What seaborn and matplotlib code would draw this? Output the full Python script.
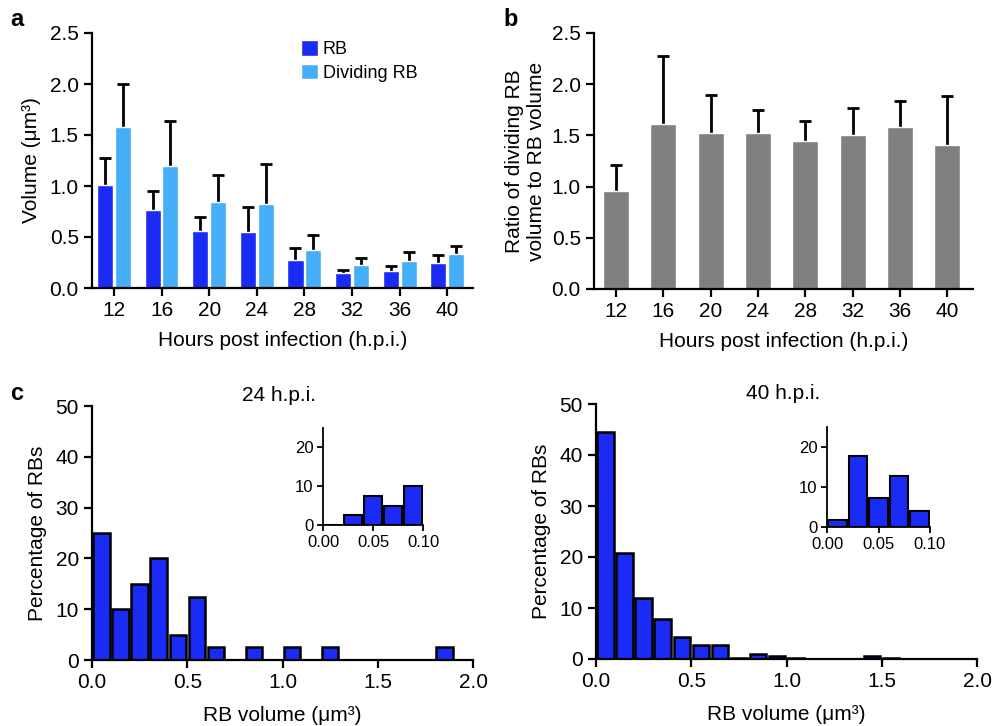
import numpy as np
import pandas as pd
import seaborn as sns
import matplotlib.pyplot as plt

# ----------------------------
# Data
# ----------------------------
hpi = ["12", "16", "20", "24", "28", "32", "36", "40"]

rb_mean = [1.01, 0.76, 0.56, 0.55, 0.27, 0.15, 0.17, 0.25]
rb_upper = [1.27, 0.95, 0.70, 0.79, 0.39, 0.18, 0.22, 0.32]
div_mean = [1.58, 1.20, 0.84, 0.82, 0.37, 0.23, 0.26, 0.33]
div_upper = [2.00, 1.64, 1.11, 1.22, 0.52, 0.29, 0.35, 0.41]

ratio_mean = [0.96, 1.61, 1.52, 1.52, 1.45, 1.50, 1.58, 1.41]
ratio_upper = [1.21, 2.28, 1.89, 1.75, 1.64, 1.77, 1.84, 1.88]

# histogram of RB volume, bins of 0.1 um3 from 0 to 2.0 (percent)
vol_bins = [0.0, 0.1, 0.2, 0.3, 0.4, 0.5, 0.6, 0.7, 0.8, 0.9, 1.0,
            1.1, 1.2, 1.3, 1.4, 1.5, 1.6, 1.7, 1.8, 1.9, 2.0]
pct_24 = [25, 10, 15, 20, 5, 12.5, 2.5, 0, 2.5, 0,
          2.5, 0, 2.5, 0, 0, 0, 0, 0, 2.5, 0]
pct_40 = [44.5, 20.7, 12.0, 7.8, 4.4, 2.8, 2.8, 0.15, 1.0, 0.6,
          0.15, 0, 0, 0, 0.6, 0.15, 0, 0, 0, 0]

# inset histograms, bins of 0.02 from 0 to 0.10
small_bins = [0.0, 0.02, 0.04, 0.06, 0.08, 0.10]
small_24 = [0, 2.5, 7.5, 5, 10]
small_40 = [1.7, 17.8, 7.3, 12.8, 4.0]

RB_BLUE = "#1b2bf6"
DIV_BLUE = "#44aef8"
GREY = "#808080"

# ----------------------------
# Style
# ----------------------------
sns.set_style("ticks")
plt.rcParams['font.family'] = ['Liberation Sans', 'DejaVu Sans']
plt.rcParams['axes.linewidth'] = 1.6
plt.rcParams['xtick.major.width'] = 1.6
plt.rcParams['ytick.major.width'] = 1.6
plt.rcParams['xtick.major.size'] = 6
plt.rcParams['ytick.major.size'] = 6
plt.rcParams['xtick.labelsize'] = 15
plt.rcParams['ytick.labelsize'] = 15
plt.rcParams['axes.labelsize'] = 15
plt.rcParams['axes.edgecolor'] = 'black'
plt.rcParams['axes.labelcolor'] = 'black'
plt.rcParams['xtick.color'] = 'black'
plt.rcParams['ytick.color'] = 'black'
plt.rcParams['text.color'] = 'black'

W, H = 992, 726
fig = plt.figure(figsize=(W / 100, H / 100), dpi=100)


def px_axes(left, top, right, bottom):
    return fig.add_axes([left / W, 1 - bottom / H, (right - left) / W, (bottom - top) / H])


def upper_errors(ax, container, upper):
    # one-sided (upper) error bars on top of the drawn bars
    xs = [p.get_x() + p.get_width() / 2 for p in container]
    hs = [p.get_height() for p in container]
    err = np.array(upper) - np.array(hs)
    _, caps, _ = ax.errorbar(xs, hs, yerr=[np.zeros(len(hs)), err], fmt='none',
                             ecolor='black', elinewidth=2.0, capsize=4,
                             capthick=2.0, zorder=1)
    caps[0].set_visible(False)


def clean(ax):
    sns.despine(ax=ax)
    ax.tick_params(axis='both', colors='black')


# ----------------------------
# a: volumes
# ----------------------------
ax_a = px_axes(92, 33, 473, 288)
df_a = pd.DataFrame({
    "hpi": hpi * 2,
    "type": ["RB"] * len(hpi) + ["Dividing RB"] * len(hpi),
    "volume": rb_mean + div_mean,
})
sns.barplot(data=df_a, x="hpi", y="volume", hue="type", order=hpi,
            palette=[RB_BLUE, DIV_BLUE], errorbar=None, width=0.75, gap=0.1,
            saturation=1, ax=ax_a, zorder=2)
upper_errors(ax_a, ax_a.containers[0], rb_upper)
upper_errors(ax_a, ax_a.containers[1], div_upper)
ax_a.set_ylim(0, 2.5)
ax_a.set_xlim(-0.46, 7.54)
ax_a.set_yticks([0, 0.5, 1.0, 1.5, 2.0, 2.5])
ax_a.set_yticklabels(["0.0", "0.5", "1.0", "1.5", "2.0", "2.5"])
ax_a.set_xlabel("Hours post infection (h.p.i.)", labelpad=8)
ax_a.set_ylabel("Volume (μm³)", labelpad=6)
ax_a.legend(loc="upper left", bbox_to_anchor=(0.53, 1.0), frameon=False,
            fontsize=13, handlelength=0.95, handleheight=0.95, handletextpad=0.25,
            labelspacing=0.3, borderaxespad=0)
clean(ax_a)

# ----------------------------
# b: ratio
# ----------------------------
ax_b = px_axes(594, 33, 973, 289)
sns.barplot(x=hpi, y=ratio_mean, order=hpi, color=GREY, errorbar=None,
            width=0.55, saturation=1, ax=ax_b, zorder=2)
upper_errors(ax_b, ax_b.containers[0], ratio_upper)
ax_b.set_ylim(0, 2.5)
ax_b.set_xlim(-0.46, 7.54)
ax_b.set_yticks([0, 0.5, 1.0, 1.5, 2.0, 2.5])
ax_b.set_yticklabels(["0.0", "0.5", "1.0", "1.5", "2.0", "2.5"])
ax_b.set_xlabel("Hours post infection (h.p.i.)", labelpad=8)
ax_b.set_ylabel("Ratio of dividing RB\nvolume to RB volume", labelpad=4)
clean(ax_b)


# ----------------------------
# c: histograms
# ----------------------------
def hist_panel(ax, bins, pct, shrink, lw):
    centers = (np.array(bins[:-1]) + np.array(bins[1:])) / 2
    sns.histplot(x=centers, weights=pct, bins=bins, shrink=shrink, color=RB_BLUE,
                 edgecolor="black", linewidth=lw, alpha=1, ax=ax)


for (l, t, r, b), pct, title, (il, it, ir, ib), spct in [
        ((92, 406, 473, 660), pct_24, "24 h.p.i.", (323, 428, 423, 525), small_24),
        ((596, 404, 977, 659), pct_40, "40 h.p.i.", (827, 427, 930, 527), small_40)]:
    ax = px_axes(l, t, r, b)
    hist_panel(ax, vol_bins, pct, 0.86, 1.8)
    ax.set_xlim(0, 2.0)
    ax.set_ylim(0, 50)
    ax.set_xticks([0, 0.5, 1.0, 1.5, 2.0])
    ax.set_xticklabels(["0.0", "0.5", "1.0", "1.5", "2.0"])
    ax.set_yticks([0, 10, 20, 30, 40, 50])
    ax.set_xlabel("RB volume (μm³)", labelpad=10)
    ax.set_ylabel("Percentage of RBs", labelpad=6)
    ax.set_title(title, fontsize=15, x=0.49, y=0.985)
    clean(ax)

    ins = px_axes(il, it, ir, ib)
    hist_panel(ins, small_bins, spct, 0.9, 1.5)
    ins.set_xlim(0, 0.10)
    ins.set_ylim(0, 25)
    ins.set_xticks([0, 0.05, 0.10])
    ins.set_xticklabels(["0.00", "0.05", "0.10"])
    ins.set_yticks([0, 10, 20])
    ins.tick_params(labelsize=12, length=4, width=1.3, pad=3)
    ins.set_xlabel("")
    ins.set_ylabel("")
    for s in ins.spines.values():
        s.set_linewidth(1.3)
    clean(ins)

# panel letters
fig.text(10 / W, 1 - 26 / H, "a", fontsize=17, fontweight="bold")
fig.text(503 / W, 1 - 26 / H, "b", fontsize=17, fontweight="bold")
fig.text(10 / W, 1 - 400 / H, "c", fontsize=17, fontweight="bold")

fig.savefig("out.png", dpi=100)
